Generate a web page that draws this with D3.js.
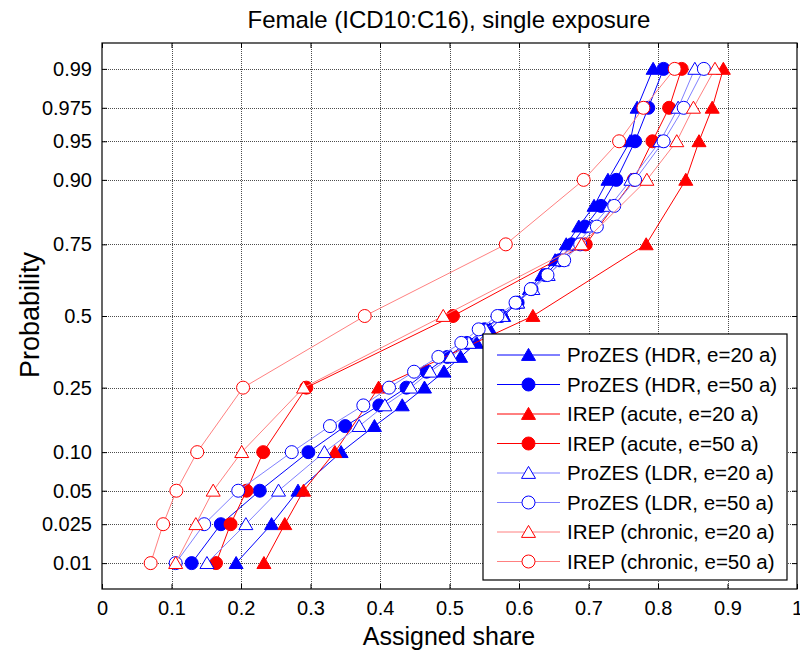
<!DOCTYPE html>
<html>
<head>
<meta charset="utf-8">
<script src="https://cdn.jsdelivr.net/npm/d3@7"></script>
<style>
  body { margin: 0; background: #fff; }
  text { font-family: Arial, "Liberation Sans", Helvetica, sans-serif; fill: #000; }
</style>
</head>
<body>
<div id="chart"></div>
<script>
// ---- data ----
const probTicks = [0.01, 0.025, 0.05, 0.10, 0.25, 0.5, 0.75, 0.90, 0.95, 0.975, 0.99];
const probTickLabels = ["0.01", "0.025", "0.05", "0.10", "0.25", "0.5", "0.75", "0.90", "0.95", "0.975", "0.99"];
const shareTicks = [0, 0.1, 0.2, 0.3, 0.4, 0.5, 0.6, 0.7, 0.8, 0.9, 1];
const shareTickLabels = ["0", "0.1", "0.2", "0.3", "0.4", "0.5", "0.6", "0.7", "0.8", "0.9", "1"];

// probabilities at which each model was evaluated
const probProzes = [0.01, 0.025, 0.05, 0.10, 0.15, 0.20, 0.25, 0.30, 0.35, 0.40, 0.45, 0.50,
                    0.55, 0.60, 0.65, 0.70, 0.75, 0.80, 0.85, 0.90, 0.95, 0.975, 0.99];
const probIrep = [0.01, 0.025, 0.05, 0.10, 0.25, 0.50, 0.75, 0.90, 0.95, 0.975, 0.99];

const prozesHdr20 = [0.193, 0.244, 0.282, 0.344, 0.392, 0.432, 0.464, 0.492, 0.516, 0.539, 0.558, 0.578,
                     0.598, 0.615, 0.633, 0.652, 0.668, 0.686, 0.708, 0.728, 0.760, 0.770, 0.793];
const prozesHdr50 = [0.129, 0.171, 0.227, 0.297, 0.350, 0.399, 0.438, 0.467, 0.497, 0.525, 0.550, 0.574,
                     0.598, 0.618, 0.638, 0.658, 0.676, 0.695, 0.718, 0.740, 0.767, 0.786, 0.808];
const irepAcute20 = [0.233, 0.263, 0.290, 0.335, 0.398, 0.620, 0.783, 0.840, 0.859, 0.878, 0.894];
const irepAcute50 = [0.164, 0.185, 0.208, 0.232, 0.294, 0.505, 0.696, 0.765, 0.792, 0.816, 0.834];
const prozesLdr20 = [0.151, 0.207, 0.254, 0.320, 0.370, 0.407, 0.444, 0.472, 0.502, 0.528, 0.552, 0.576,
                     0.598, 0.620, 0.642, 0.662, 0.683, 0.705, 0.731, 0.761, 0.803, 0.829, 0.853];
const prozesLdr50 = [0.106, 0.147, 0.196, 0.273, 0.328, 0.376, 0.413, 0.449, 0.484, 0.517, 0.542, 0.569,
                     0.595, 0.617, 0.641, 0.665, 0.688, 0.712, 0.737, 0.767, 0.808, 0.837, 0.866];
const irepChronic20 = [0.106, 0.135, 0.160, 0.201, 0.290, 0.491, 0.690, 0.784, 0.827, 0.851, 0.882];
const irepChronic50 = [0.070, 0.088, 0.107, 0.137, 0.203, 0.378, 0.581, 0.693, 0.744, 0.779, 0.824];

const seriesNames = ["ProZES (HDR, e=20 a)", "ProZES (HDR, e=50 a)", "IREP (acute, e=20 a)", "IREP (acute, e=50 a)",
                     "ProZES (LDR, e=20 a)", "ProZES (LDR, e=50 a)", "IREP (chronic, e=20 a)", "IREP (chronic, e=50 a)"];

// style table
const series = [
  {name: seriesNames[0], probs: probProzes, vals: prozesHdr20,  line: "#0000ff", mark: "#0000ff", shape: "tri",    filled: true},
  {name: seriesNames[1], probs: probProzes, vals: prozesHdr50,  line: "#0000ff", mark: "#0000ff", shape: "circle", filled: true},
  {name: seriesNames[2], probs: probIrep,   vals: irepAcute20,  line: "#ff0000", mark: "#ff0000", shape: "tri",    filled: true},
  {name: seriesNames[3], probs: probIrep,   vals: irepAcute50,  line: "#ff0000", mark: "#ff0000", shape: "circle", filled: true},
  {name: seriesNames[4], probs: probProzes, vals: prozesLdr20,  line: "#8080ff", mark: "#0000ff", shape: "tri",    filled: false},
  {name: seriesNames[5], probs: probProzes, vals: prozesLdr50,  line: "#8080ff", mark: "#0000ff", shape: "circle", filled: false},
  {name: seriesNames[6], probs: probIrep,   vals: irepChronic20, line: "#ff8080", mark: "#ff0000", shape: "tri",    filled: false},
  {name: seriesNames[7], probs: probIrep,   vals: irepChronic50, line: "#ff8080", mark: "#ff0000", shape: "circle", filled: false}
];

// inverse normal CDF (Acklam) for the probability axis
function probit(p){
  const a = [-3.969683028665376e+01, 2.209460984245205e+02, -2.759285104469687e+02, 1.383577518672690e+02, -3.066479806614716e+01, 2.506628277459239e+00];
  const b = [-5.447609879822406e+01, 1.615858368580409e+02, -1.556989798598866e+02, 6.680131188771972e+01, -1.328068155288572e+01];
  const c = [-7.784894002430293e-03, -3.223964580411365e-01, -2.400758277161838e+00, -2.549732539343734e+00, 4.374664141464968e+00, 2.938163982698783e+00];
  const d = [7.784695709041462e-03, 3.224671290700398e-01, 2.445134137142996e+00, 3.754408661907416e+00];
  const pl = 0.02425, ph = 1 - pl;
  let q, r;
  if (p < pl) {
    q = Math.sqrt(-2 * Math.log(p));
    return (((((c[0]*q+c[1])*q+c[2])*q+c[3])*q+c[4])*q+c[5]) / ((((d[0]*q+d[1])*q+d[2])*q+d[3])*q+1);
  }
  if (p <= ph) {
    q = p - 0.5; r = q * q;
    return (((((a[0]*r+a[1])*r+a[2])*r+a[3])*r+a[4])*r+a[5])*q / (((((b[0]*r+b[1])*r+b[2])*r+b[3])*r+b[4])*r+1);
  }
  q = Math.sqrt(-2 * Math.log(1 - p));
  return -(((((c[0]*q+c[1])*q+c[2])*q+c[3])*q+c[4])*q+c[5]) / ((((d[0]*q+d[1])*q+d[2])*q+d[3])*q+1);
}

// ---- layout ----
const W = 800, H = 654;
const plot = {left: 102, right: 797, top: 43, bottom: 589};

const svg = d3.select("#chart").append("svg")
  .attr("width", W).attr("height", H);

const x = d3.scaleLinear().domain([0, 1]).range([plot.left, plot.right]);
const z = d3.scaleLinear().domain([-2.57, 2.57]).range([plot.bottom, plot.top]);
const y = p => z(probit(p));

// grid
const grid = svg.append("g").attr("class", "grid")
  .attr("stroke", "#4d4d4d").attr("stroke-width", 1).attr("stroke-dasharray", "1,1");
grid.selectAll("line.gx").data(shareTicks.slice(1, -1)).enter().append("line")
  .attr("x1", d => Math.round(x(d)) + 0.5).attr("x2", d => Math.round(x(d)) + 0.5)
  .attr("y1", plot.top).attr("y2", plot.bottom);
grid.selectAll("line.gy").data(probTicks).enter().append("line")
  .attr("y1", d => Math.round(y(d)) + 0.5).attr("y2", d => Math.round(y(d)) + 0.5)
  .attr("x1", plot.left).attr("x2", plot.right);

// axes (MATLAB style: inward ticks on all sides)
const tickLen = 5;
const xBottom = d3.axisBottom(x).tickValues(shareTicks).tickSizeInner(-tickLen).tickSizeOuter(0)
  .tickPadding(12).tickFormat((d, i) => shareTickLabels[i]);
const xTop = d3.axisTop(x).tickValues(shareTicks).tickSizeInner(-tickLen).tickSizeOuter(0).tickFormat("");
const yLeft = d3.axisLeft(z).tickValues(probTicks.map(probit)).tickSizeInner(-tickLen).tickSizeOuter(0)
  .tickPadding(10).tickFormat((d, i) => probTickLabels[i]);
const yRight = d3.axisRight(z).tickValues(probTicks.map(probit)).tickSizeInner(-tickLen).tickSizeOuter(0).tickFormat("");

function styleAxis(g){
  g.select(".domain").remove();
  g.selectAll("line").attr("stroke", "#000");
  g.selectAll("text").attr("font-size", 20).attr("font-family", "Arial, 'Liberation Sans', sans-serif");
}
svg.append("g").attr("transform", `translate(0,${plot.bottom})`).call(xBottom).call(styleAxis);
svg.append("g").attr("transform", `translate(0,${plot.top})`).call(xTop).call(styleAxis);
svg.append("g").attr("transform", `translate(${plot.left},0)`).call(yLeft).call(styleAxis);
svg.append("g").attr("transform", `translate(${plot.right},0)`).call(yRight).call(styleAxis);

// marker drawing
function drawMarker(g, s, cx, cy){
  const fill = s.filled ? s.mark : "#fff";
  if (s.shape === "circle") {
    g.append("circle").attr("cx", cx).attr("cy", cy).attr("r", 6.5)
      .attr("fill", fill).attr("stroke", s.mark).attr("stroke-width", 1);
  } else {
    const hw = 7, h = 12;
    g.append("path")
      .attr("d", `M${cx},${cy - h * 0.55}L${cx + hw},${cy + h * 0.45}L${cx - hw},${cy + h * 0.45}Z`)
      .attr("fill", fill).attr("stroke", s.mark).attr("stroke-width", 1);
  }
}

// series
const lineGen = d3.line().x(d => x(d[1])).y(d => y(d[0]));
const plotArea = svg.append("g").attr("class", "series");
series.forEach(s => {
  const pts = s.probs.map((p, i) => [p, s.vals[i]]);
  const g = plotArea.append("g");
  g.append("path").datum(pts).attr("d", lineGen)
    .attr("fill", "none").attr("stroke", s.line).attr("stroke-width", 1);
  pts.forEach(d => drawMarker(g, s, x(d[1]), y(d[0])));
});

// box
svg.append("rect")
  .attr("x", plot.left).attr("y", plot.top)
  .attr("width", plot.right - plot.left).attr("height", plot.bottom - plot.top)
  .attr("fill", "none").attr("stroke", "#000").attr("stroke-width", 1.2);

// legend
const leg = svg.append("g").attr("class", "legend");
const legBox = {x: 483, y: 334, w: 304, h: 246};
leg.append("rect").attr("x", legBox.x).attr("y", legBox.y)
  .attr("width", legBox.w).attr("height", legBox.h)
  .attr("fill", "#fff").attr("stroke", "#000").attr("stroke-width", 1.2);
series.forEach((s, i) => {
  const cy = 355 + i * 29.5;
  leg.append("line").attr("x1", 497).attr("x2", 560).attr("y1", cy).attr("y2", cy)
    .attr("stroke", s.line).attr("stroke-width", 1);
  drawMarker(leg, s, 528.5, cy);
  leg.append("text").attr("x", 567).attr("y", cy).attr("dy", "0.36em")
    .attr("font-size", 20.5).text(s.name);
});

// titles
svg.append("text").attr("x", 449).attr("y", 28).attr("text-anchor", "middle")
  .attr("font-size", 24).text("Female (ICD10:C16), single exposure");
svg.append("text").attr("x", 449).attr("y", 645).attr("text-anchor", "middle")
  .attr("font-size", 25).text("Assigned share");
svg.append("text").attr("transform", "translate(39,315) rotate(-90)").attr("text-anchor", "middle")
  .attr("font-size", 27).text("Probability");
</script>
</body>
</html>
